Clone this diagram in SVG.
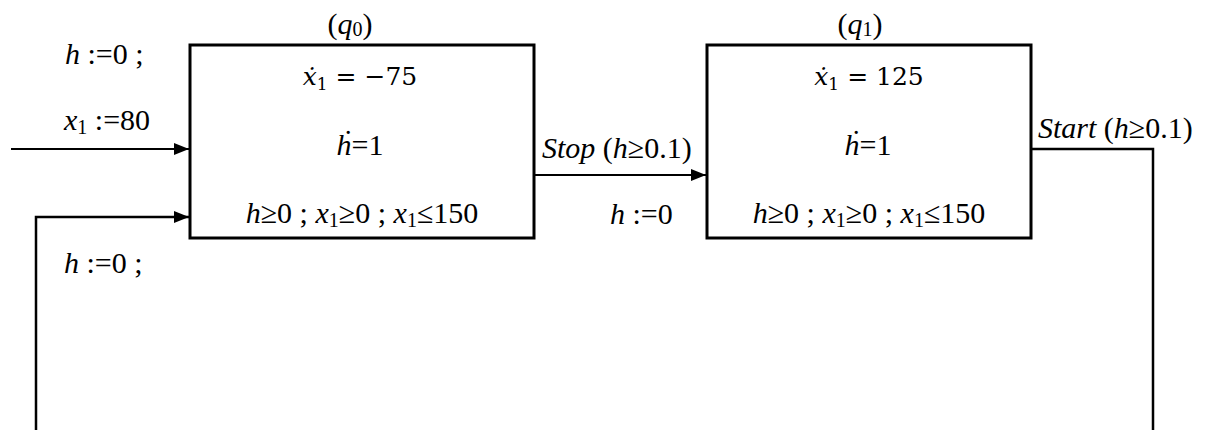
<svg xmlns="http://www.w3.org/2000/svg" width="1209" height="430" viewBox="0 0 1209 430">
<style>
.box{fill:#fff;stroke:#000;stroke-width:3}
.ln{fill:none;stroke:#000;stroke-width:2}
.lv{fill:none;stroke:#000;stroke-width:2.5}
text{font-family:"Liberation Serif","Times New Roman",serif;font-size:30px;fill:#000}
.m{font-family:"DejaVu Serif","Liberation Serif",serif;font-size:25px}
.c{text-anchor:middle}
.i{font-style:italic}
.s{font-size:20px}
.ms{font-size:17px}
</style>
<defs>
<marker id="arr" markerWidth="15" markerHeight="12" refX="15" refY="6" orient="auto" markerUnits="userSpaceOnUse">
<path d="M0,0 L15,6 L0,12 Z" fill="#000"/>
</marker>
</defs>
<g id="connectors">
<path class="ln" d="M11,149 H189" marker-end="url(#arr)"/>
<path class="lv" d="M36,430 V217 H189" marker-end="url(#arr)"/>
<path class="ln" d="M534,175 H706" marker-end="url(#arr)"/>
<path class="lv" d="M1031,149 H1153 V430"/>
<text x="65" y="64"><tspan class="i">h</tspan> :=0 ;</text>
<text x="64" y="130"><tspan class="i">x</tspan><tspan class="s" dy="4">1</tspan><tspan dy="-4"> :=80</tspan></text>
<text x="64" y="273"><tspan class="i">h</tspan> :=0 ;</text>
<text x="542" y="158"><tspan class="i">Stop</tspan> (<tspan class="i">h</tspan>≥0.1)</text>
<text x="610" y="224"><tspan class="i">h</tspan> :=0</text>
<text x="1038" y="138"><tspan class="i">Start</tspan> (<tspan class="i">h</tspan>≥0.1)</text>
</g>
<g id="q0">
<rect class="box" x="190" y="45" width="344" height="193"/>
<text class="c" x="350" y="34">(<tspan class="i">q</tspan><tspan class="s" dy="2">0</tspan><tspan dy="-2">)</tspan></text>
<text class="c m" x="360" y="85"><tspan class="i">ẋ</tspan><tspan class="ms" dy="5">1</tspan><tspan dy="-5"> = −75</tspan></text>
<text class="c" x="360" y="155"><tspan class="i">ḣ</tspan>=1</text>
<text class="c" x="362" y="223"><tspan class="i">h</tspan>≥0 ; <tspan class="i">x</tspan><tspan class="s" dy="4">1</tspan><tspan dy="-4">≥0 ; </tspan><tspan class="i">x</tspan><tspan class="s" dy="4">1</tspan><tspan dy="-4">≤150</tspan></text>
</g>
<g id="q1">
<rect class="box" x="707" y="45" width="324" height="193"/>
<text class="c" x="860" y="34">(<tspan class="i">q</tspan><tspan class="s" dy="2">1</tspan><tspan dy="-2">)</tspan></text>
<text class="c m" x="869" y="85"><tspan class="i">ẋ</tspan><tspan class="ms" dy="5">1</tspan><tspan dy="-5"> = 125</tspan></text>
<text class="c" x="868" y="155"><tspan class="i">ḣ</tspan>=1</text>
<text class="c" x="869" y="223"><tspan class="i">h</tspan>≥0 ; <tspan class="i">x</tspan><tspan class="s" dy="4">1</tspan><tspan dy="-4">≥0 ; </tspan><tspan class="i">x</tspan><tspan class="s" dy="4">1</tspan><tspan dy="-4">≤150</tspan></text>
</g>
</svg>
